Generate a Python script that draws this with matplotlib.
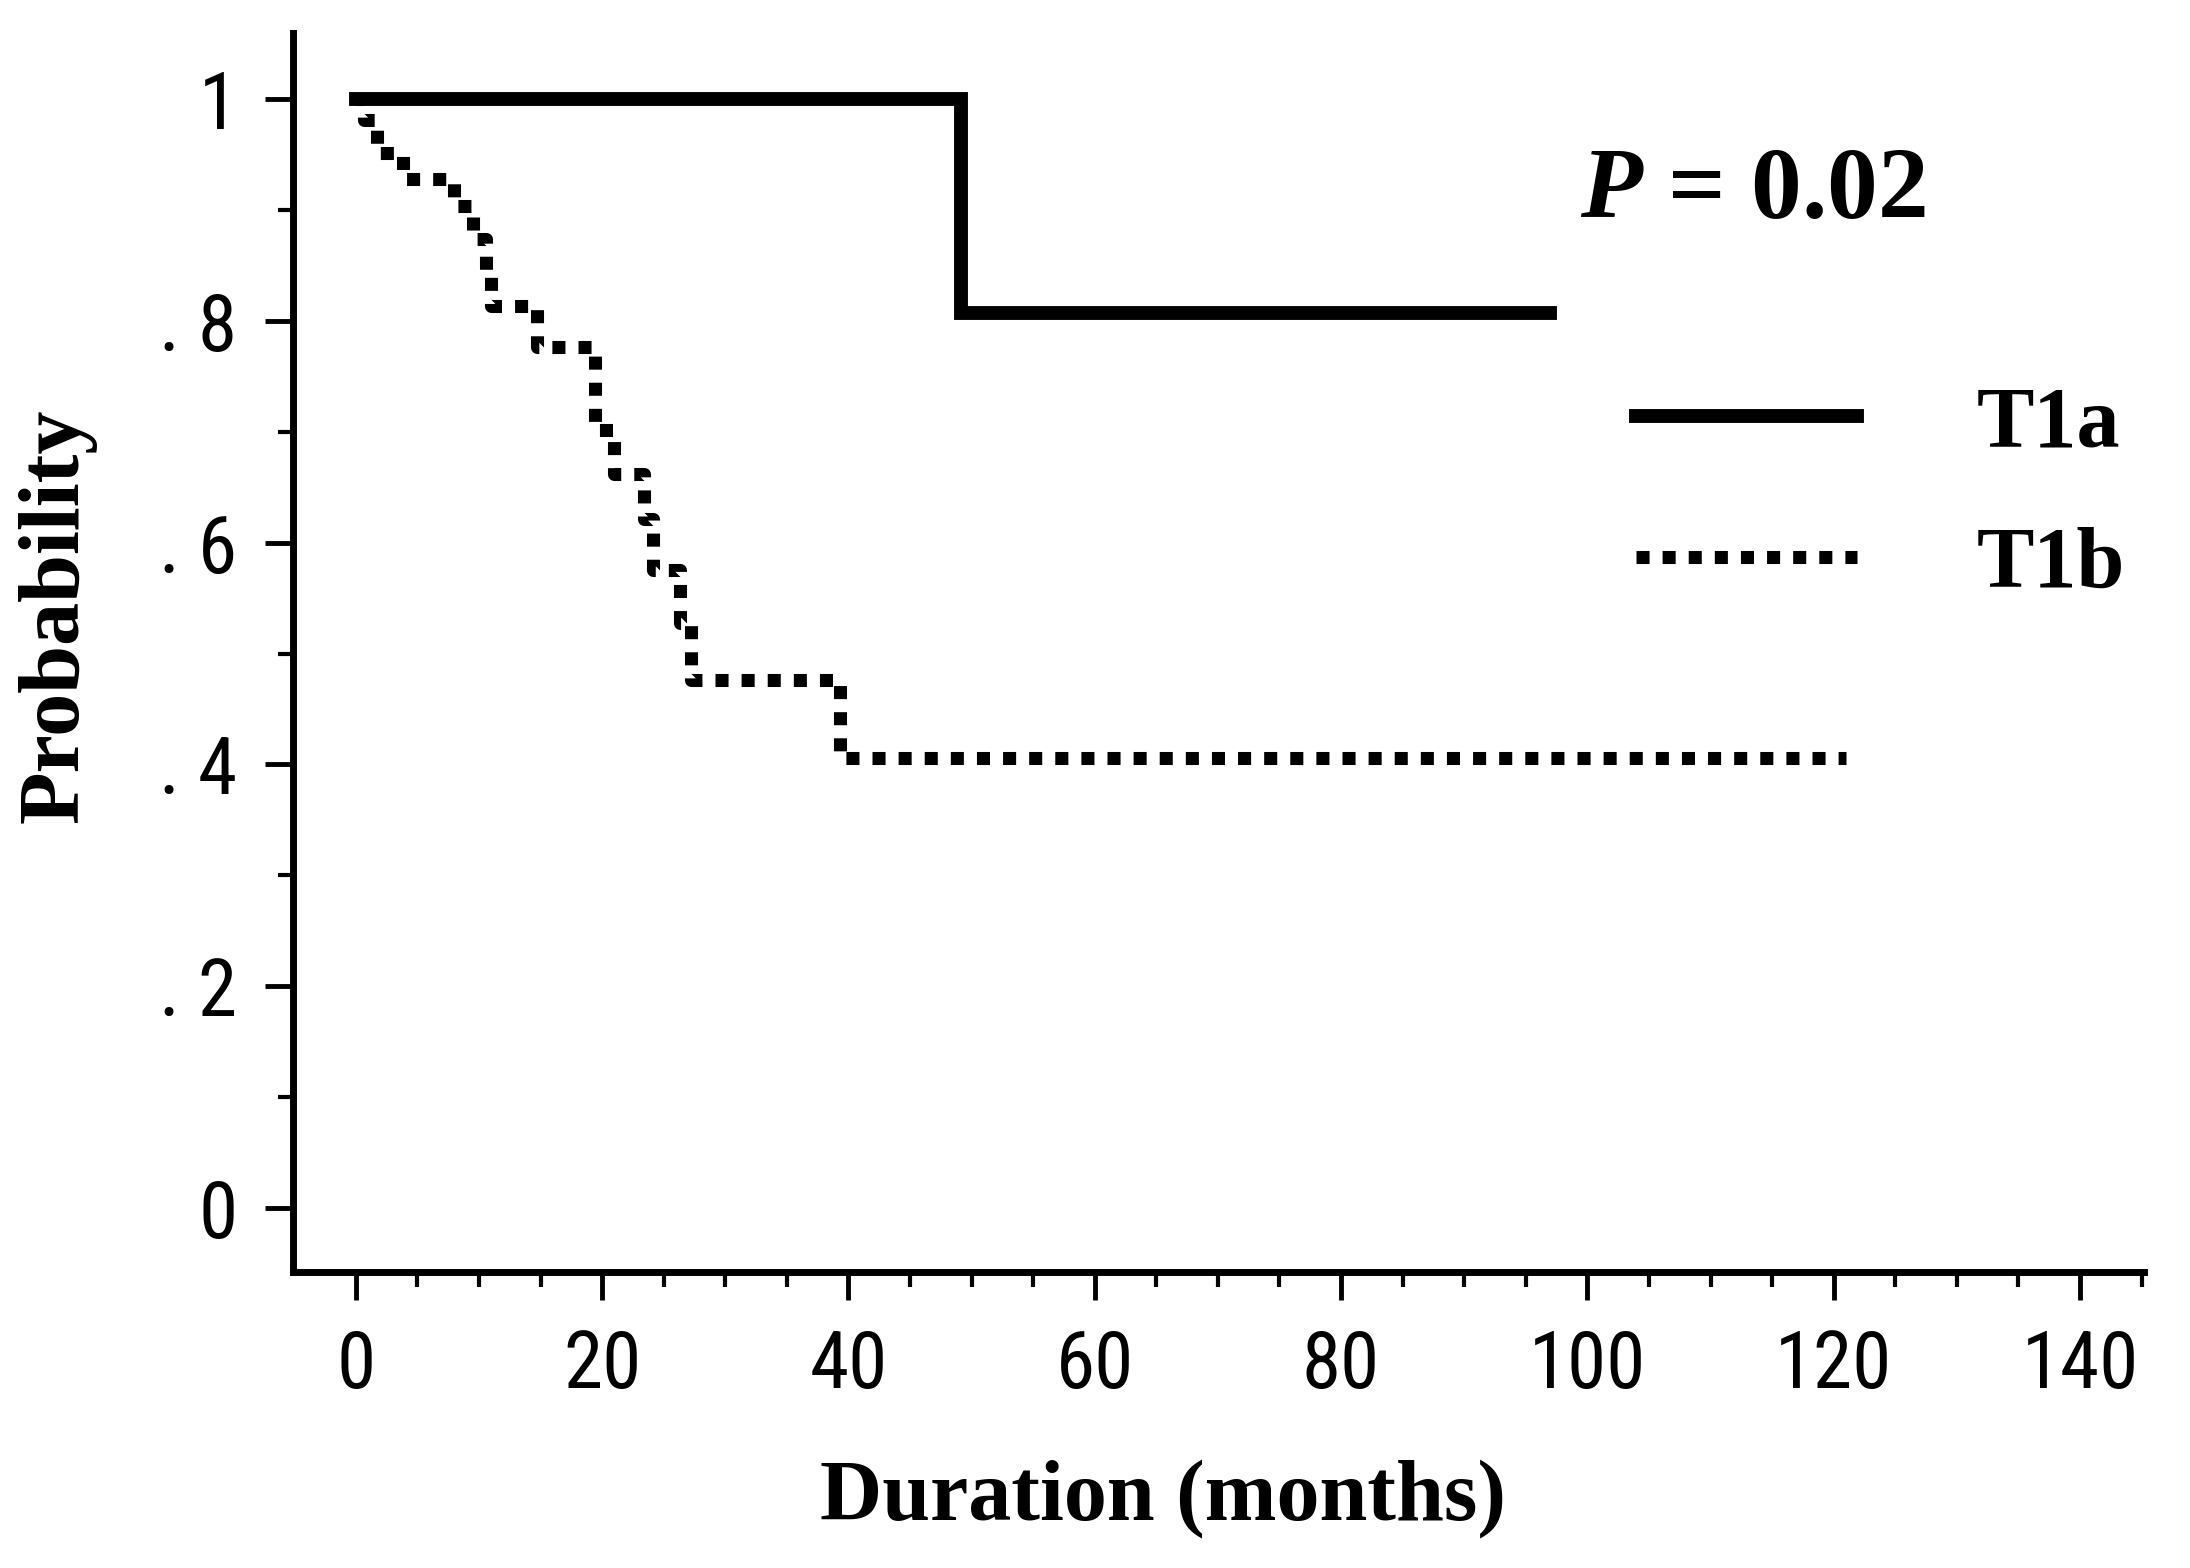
import numpy as np
import matplotlib
matplotlib.use("Agg")
import matplotlib.pyplot as plt
from matplotlib import font_manager
from matplotlib.ticker import FixedLocator

# Kaplan-Meier curves (months, probability)
t1a_time = [0, 49.1, 97.0]
t1a_surv = [1.0, 0.807, 0.807]

t1b_time = [0, 0.7, 1.7, 3.8, 8.0, 9.5, 10.6, 11.0, 14.7, 19.4, 21.0,
            23.4, 24.1, 26.3, 27.2, 39.3, 121.0]
t1b_surv = [1.0, 0.981, 0.952, 0.928, 0.904, 0.874, 0.845, 0.814, 0.777,
            0.702, 0.662, 0.621, 0.575, 0.528, 0.476, 0.406, 0.406]

group_labels = ["T1a", "T1b"]
p_text = r"$\mathit{P}$ = 0.02"

x_major = [0, 20, 40, 60, 80, 100, 120, 140]
y_major = [0, 0.2, 0.4, 0.6, 0.8, 1.0]
y_ticklabels = ["0", ". 2", ". 4", ". 6", ". 8", "1"]

plt.rcParams["mathtext.fontset"] = "custom"
plt.rcParams["mathtext.it"] = "Liberation Serif:italic:bold"
plt.rcParams["mathtext.rm"] = "Liberation Serif:bold"

# narrow sans for the tick numbers, whatever is around
installed = [(f.name, f.stretch) for f in font_manager.fontManager.ttflist]
tick_font = "DejaVu Sans"
for cand in ["Liberation Sans Narrow", "Arial Narrow", "Roboto Condensed",
             "Open Sans Condensed", "DejaVu Sans Condensed"]:
    if any(n == cand for n, s in installed):
        tick_font = cand
        break
label_font = ["Liberation Serif", "DejaVu Serif"]

fig = plt.figure(figsize=(21.9, 15.68), dpi=100)
ax = fig.add_axes([0.1338, 0.1888, 0.979 - 0.1338, 0.979 - 0.1888])

# Curves
line_a, = ax.plot(t1a_time, t1a_surv, drawstyle="steps-post", color="black",
                  linewidth=10, solid_capstyle="projecting",
                  solid_joinstyle="miter")
line_b, = ax.plot(t1b_time, t1b_surv, drawstyle="steps-post", color="black",
                  linewidth=9.4, dashes=(1.0, 1.0), dash_capstyle="butt")

# Axis limits and spines
ax.set_xlim(-5.1, 145.2)
ax.set_ylim(-0.058, 1.06)
for side in ["top", "right"]:
    ax.spines[side].set_visible(False)
for side in ["left", "bottom"]:
    ax.spines[side].set_linewidth(5)

# Ticks
ax.xaxis.set_major_locator(FixedLocator(x_major))
ax.xaxis.set_minor_locator(FixedLocator([v for v in range(5, 150, 5) if v % 20 != 0]))
ax.yaxis.set_major_locator(FixedLocator(y_major))
ax.yaxis.set_minor_locator(FixedLocator([0.1, 0.3, 0.5, 0.7, 0.9]))
ax.set_yticklabels(y_ticklabels)
ax.tick_params(which="major", direction="out", length=20, width=3.5, pad=20,
               labelsize=57)
ax.tick_params(which="minor", direction="out", length=11, width=3)
ax.tick_params(axis="y", which="major", pad=20)
for lab in ax.get_xticklabels() + ax.get_yticklabels():
    lab.set_fontfamily(tick_font)
    lab.set_fontstretch("condensed")

# Axis labels
ax.set_xlabel("Duration (months)", fontsize=62, fontweight="bold",
              fontfamily=label_font)
ax.set_ylabel("Probability", fontsize=62, fontweight="bold",
              fontfamily=label_font)
ax.xaxis.set_label_coords(0.47, -0.151)
ax.yaxis.set_label_coords(-0.106, 0.53)

# P value
ax.text(99.4, 0.893, p_text, fontsize=73, fontweight="bold",
        fontfamily=label_font, ha="left", va="baseline")

# Legend
ax.legend([line_a, line_b], group_labels, loc="upper left",
          bbox_to_anchor=(0.7256, 0.715), frameon=False, borderpad=0,
          borderaxespad=0, handlelength=2.57, handletextpad=1.38,
          labelspacing=0.71,
          prop={"family": label_font, "weight": "bold", "size": 62})

fig.savefig("out.png", dpi=100)
